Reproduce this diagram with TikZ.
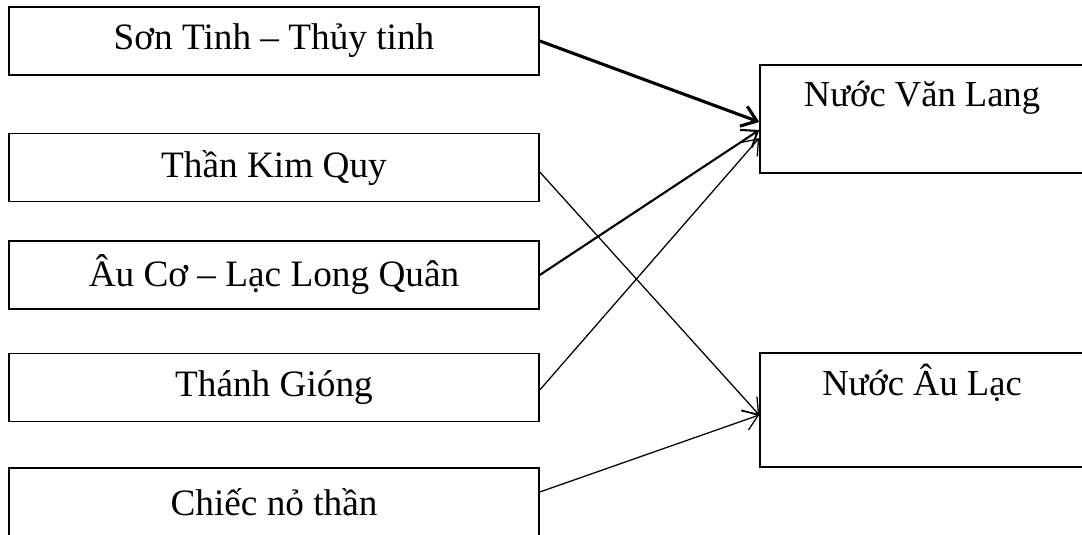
\documentclass[tikz,border=0pt]{standalone}
\usepackage{fontspec}
\setmainfont{Liberation Serif}
\usetikzlibrary{arrows.meta}

\begin{document}
\begin{tikzpicture}[
    source/.style={draw, line width=1.1pt, minimum width=13.25cm, minimum height=1.7cm, inner sep=0pt, font=\fontsize{26.5}{31}\selectfont},
    country/.style={draw, line width=1.1pt, minimum width=8.1cm, inner sep=0pt, text height=1.05cm, font=\fontsize{26}{31}\selectfont},
    link/.style={draw, line width=0.9pt, -{Straight Barb[length=10pt, width=15pt]}}
]
\useasboundingbox (0,0) rectangle (27.05,-13.375);

% Define node positions
\node[source] (ST) at (6.85,-1.025) {Sơn Tinh – Thủy tinh};
\node[source] (KQ) at (6.85,-4.19) {Thần Kim Quy};
\node[source] (AC) at (6.85,-6.875) {Âu Cơ – Lạc Long Quân};
\node[source] (TG) at (6.85,-9.69) {Thánh Gióng};
\node[source] (NT) at (6.85,-12.55) {Chiếc nỏ thần};

\node[country, text depth=1.65cm] (VL) at (23.05,-2.975) {Nước Văn Lang};
\node[country, text depth=1.8cm] (AL) at (23.05,-10.25) {Nước Âu Lạc};

% Draw arrows to the two countries
\draw[link, line width=2.2pt] (ST.east) -- ([yshift=-0.075cm]VL.west);
\draw[link] ([yshift=-0.11cm]KQ.east) -- ([yshift=-0.125cm]AL.west);
\draw[link, line width=1.5pt] (AC.east) -- ([yshift=-0.275cm]VL.west);
\draw[link] ([yshift=-0.06cm]TG.east) -- ([yshift=-0.475cm]VL.west);
\draw[link] ([yshift=0.25cm]NT.east) -- ([yshift=-0.125cm]AL.west);

\end{tikzpicture}
\end{document}
